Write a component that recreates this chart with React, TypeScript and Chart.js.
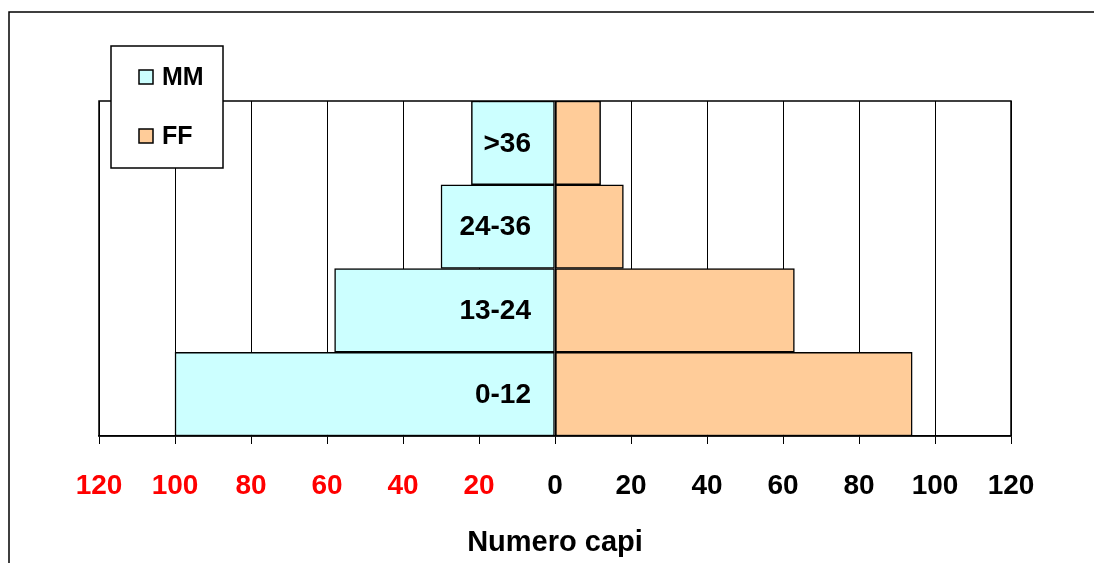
import React, { useEffect, useRef } from "react";
import { Chart, registerables } from "chart.js";

Chart.register(...registerables);

const categories = [">36", "24-36", "13-24", "0-12"];
const maleValues = [-22, -30, -58, -100];
const femaleValues = [12, 18, 63, 94];
const seriesNames = ["MM", "FF"];
const seriesColors = ["#CCFFFF", "#FFCC99"];
const axisTitle = "Numero capi";

const FONT = '"Liberation Sans", Arial, Helvetica, sans-serif';

const framePlugin = {
  id: "frame",
  beforeDraw(chart: any) {
    const ctx = chart.ctx;
    ctx.save();
    ctx.fillStyle = "#ffffff";
    ctx.fillRect(0, 0, chart.width, chart.height);
    ctx.strokeStyle = "#000";
    ctx.lineWidth = 1.5;
    ctx.beginPath();
    ctx.moveTo(9, chart.height);
    ctx.lineTo(9, 12);
    ctx.lineTo(chart.width - 1, 12);
    ctx.stroke();
    ctx.restore();
  },
  beforeDatasetsDraw(chart: any) {
    const { ctx, chartArea } = chart;
    ctx.save();
    ctx.strokeStyle = "#000";
    ctx.lineWidth = 1.5;
    ctx.strokeRect(chartArea.left, chartArea.top, chartArea.right - chartArea.left, chartArea.bottom - chartArea.top);
    ctx.restore();
  },
  afterDatasetsDraw(chart: any) {
    const ctx = chart.ctx;
    const xs = chart.scales.x;
    const ys = chart.scales.y;
    const x0 = xs.getPixelForValue(0);
    ctx.save();
    ctx.fillStyle = "#000";
    ctx.font = `bold 28px ${FONT}`;
    ctx.textAlign = "right";
    ctx.textBaseline = "middle";
    chart.data.labels.forEach((lab: string, i: number) => {
      ctx.fillText(lab, x0 - 24, ys.getPixelForValue(i) + 1);
    });
    ctx.restore();
  },
  afterDraw(chart: any) {
    const ctx = chart.ctx;
    ctx.save();
    ctx.fillStyle = "#fff";
    ctx.fillRect(111, 46, 112, 122);
    ctx.strokeStyle = "#000";
    ctx.lineWidth = 1.5;
    ctx.strokeRect(111, 46, 112, 122);
    const rows = [77, 136];
    chart.data.datasets.forEach((ds: any, i: number) => {
      const cy = rows[i];
      ctx.fillStyle = ds.backgroundColor;
      ctx.fillRect(139, cy - 7, 14, 14);
      ctx.strokeStyle = "#000";
      ctx.lineWidth = 1.5;
      ctx.strokeRect(139, cy - 7, 14, 14);
      ctx.fillStyle = "#000";
      ctx.font = `bold 25px ${FONT}`;
      ctx.textAlign = "left";
      ctx.textBaseline = "middle";
      ctx.fillText(ds.label, 162, cy + 1);
    });
    ctx.restore();
  },
};

export default function App() {
  const ref = useRef<HTMLCanvasElement | null>(null);

  useEffect(() => {
    if (!ref.current) return;
    const chart = new Chart(ref.current, {
      type: "bar",
      data: {
        labels: categories,
        datasets: [
          {
            label: seriesNames[0],
            data: maleValues,
            backgroundColor: seriesColors[0],
            borderColor: "#000",
            borderWidth: 1.5,
            borderSkipped: false,
            barPercentage: 1,
            categoryPercentage: 1,
          },
          {
            label: seriesNames[1],
            data: femaleValues,
            backgroundColor: seriesColors[1],
            borderColor: "#000",
            borderWidth: 1.5,
            borderSkipped: false,
            barPercentage: 1,
            categoryPercentage: 1,
          },
        ],
      },
      options: {
        indexAxis: "y",
        responsive: false,
        animation: false,
        layout: { padding: { left: 99, right: 84, top: 101, bottom: 2 } },
        plugins: { legend: { display: false }, tooltip: { enabled: false } },
        scales: {
          x: {
            stacked: true,
            min: -120,
            max: 120,
            ticks: {
              stepSize: 20,
              padding: 28,
              font: { family: FONT, size: 28, weight: "bold", lineHeight: 1 },
              color: (c: any) => (c.tick && c.tick.value < 0 ? "#FF0000" : "#000000"),
              callback: (v: any) => String(Math.abs(Number(v))),
              maxRotation: 0,
              autoSkip: false,
            },
            grid: { color: "#000", lineWidth: 1, tickLength: 8, drawOnChartArea: true },
            border: { color: "#000", width: 1.5 },
            title: {
              display: true,
              text: axisTitle,
              color: "#000",
              font: { family: FONT, size: 29, weight: "bold", lineHeight: 1 },
              padding: { top: 0, bottom: 4 },
            },
          },
          y: {
            stacked: true,
            display: false,
          },
        },
      },
      plugins: [framePlugin],
    });
    return () => chart.destroy();
  }, []);

  return (
    <div style={{ position: "fixed", left: 0, top: 0, width: 1095, height: 563, background: "#fff" }}>
      <canvas ref={ref} width={1095} height={563} style={{ display: "block" }} />
    </div>
  );
}
